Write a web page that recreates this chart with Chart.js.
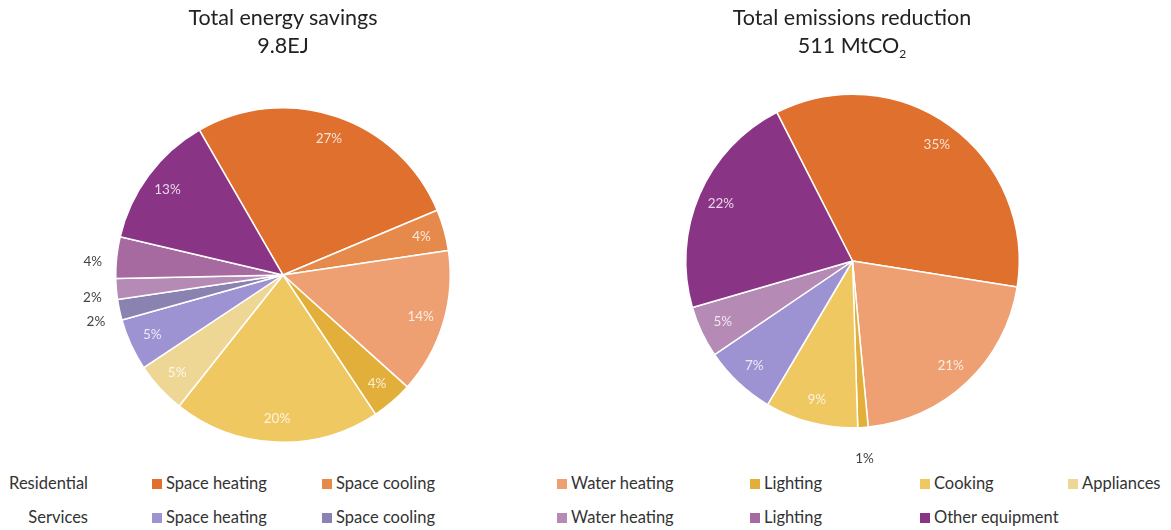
<!DOCTYPE html>
<html>
<head>
<meta charset="utf-8">
<script src="https://cdn.jsdelivr.net/npm/chart.js@4.4.1/dist/chart.umd.min.js"></script>
<style>
  body { margin: 0; width: 1171px; height: 530px; background: #fff; position: relative; overflow: hidden;
         font-family: Lato, "Open Sans", sans-serif; color: #333; }
  canvas { position: absolute; top: 0; }
  .title { position: absolute; top: 3px; width: 400px; text-align: center; font-size: 21.5px; line-height: 28px; color: #222; }
  .row-label { position: absolute; width: 88px; text-align: right; font-size: 16.5px; }
  .item { position: absolute; font-size: 16.5px; white-space: nowrap; }
  .item i { display: inline-block; width: 10px; height: 10px; margin-right: 4px; vertical-align: 0px; }
</style>
</head>
<body>
<canvas id="energy" width="585" height="472" style="left:0"></canvas>
<canvas id="emissions" width="585" height="472" style="left:585px"></canvas>
<div class="title" style="left:83px">Total energy savings<br>9.8EJ</div>
<div class="title" style="left:652px">Total emissions reduction<br>511 MtCO<sub style="font-size:12px">2</sub></div>
<div id="legend"></div>
<script>
// categories
const residential = ['Space heating', 'Space cooling', 'Water heating', 'Lighting', 'Cooking', 'Appliances']
const services = ['Space heating', 'Space cooling', 'Water heating', 'Lighting', 'Other equipment']

// shares in %, residential first then services
const energySavings = [27, 4, 14, 4, 20, 5, 5, 2, 2, 4, 13]
const emissionsReduction = [35, 0, 21, 1, 9, 0, 7, 0, 5, 0, 22]

const resColors = ['#e0702e', '#e68a4c', '#eea072', '#e2b03a', '#efc862', '#eed795']
const svcColors = ['#9d93d3', '#8a82b0', '#b58ab5', '#a66aa0', '#8a3486']

const labels = residential.map(c => 'Residential ' + c).concat(services.map(c => 'Services ' + c))
const colors = resColors.concat(svcColors)

// percentage labels, some pushed outside the pie
const pctLabels = {
  id: 'pctLabels',
  afterDatasetsDraw(chart, args, opts) {
    const ctx = chart.ctx
    const values = chart.data.datasets[0].data
    chart.getDatasetMeta(0).data.forEach((arc, i) => {
      const v = values[i]
      if (!v) return
      const p = arc.getProps(['x', 'y', 'startAngle', 'endAngle', 'outerRadius'], true)
      const mid = (p.startAngle + p.endAngle) / 2
      const out = opts.outside.includes(i)
      const r = out ? p.outerRadius + 24 : p.outerRadius * 0.86
      const x = p.x + Math.cos(mid) * r
      const y = p.y + Math.sin(mid) * r + (out ? 7 : 0)
      ctx.save()
      ctx.font = '13.5px Lato, "Open Sans", sans-serif'
      ctx.textAlign = 'center'
      ctx.textBaseline = 'middle'
      ctx.fillStyle = out ? '#444' : 'rgba(255,255,255,0.8)'
      ctx.fillText(v + '%', x, y)
      ctx.restore()
    })
  }
}

function makePie(id, values, rotation, padding, outside) {
  new Chart(document.getElementById(id), {
    type: 'pie',
    data: {
      labels: labels,
      datasets: [{
        data: values,
        backgroundColor: colors,
        borderColor: '#fff',
        borderWidth: 1.5,
      }],
    },
    options: {
      responsive: false,
      animation: false,
      rotation: rotation,
      layout: { padding: padding },
      plugins: {
        legend: { display: false },
        tooltip: { enabled: false },
        pctLabels: { outside: outside },
      },
    },
    plugins: [pctLabels],
  })
}

makePie('energy', energySavings, -30, { left: 115, right: 134, top: 107, bottom: 29 }, [7, 8, 9])
makePie('emissions', emissionsReduction, -27, { left: 100, right: 150, top: 93, bottom: 43 }, [3])

// legend
const legendCols = [152, 322, 557, 750, 920, 1068]
const legend = document.getElementById('legend')
function legendRow(title, cats, cols, top) {
  legend.insertAdjacentHTML('beforeend', `<div class="row-label" style="left:0;top:${top}px">${title}</div>`)
  cats.forEach((c, i) => {
    legend.insertAdjacentHTML('beforeend',
      `<div class="item" style="left:${legendCols[i]}px;top:${top}px"><i style="background:${cols[i]}"></i>${c}</div>`)
  })
}
legendRow('Residential', residential, resColors, 473)
legendRow('Services', services, svcColors, 507)
</script>
</body>
</html>
